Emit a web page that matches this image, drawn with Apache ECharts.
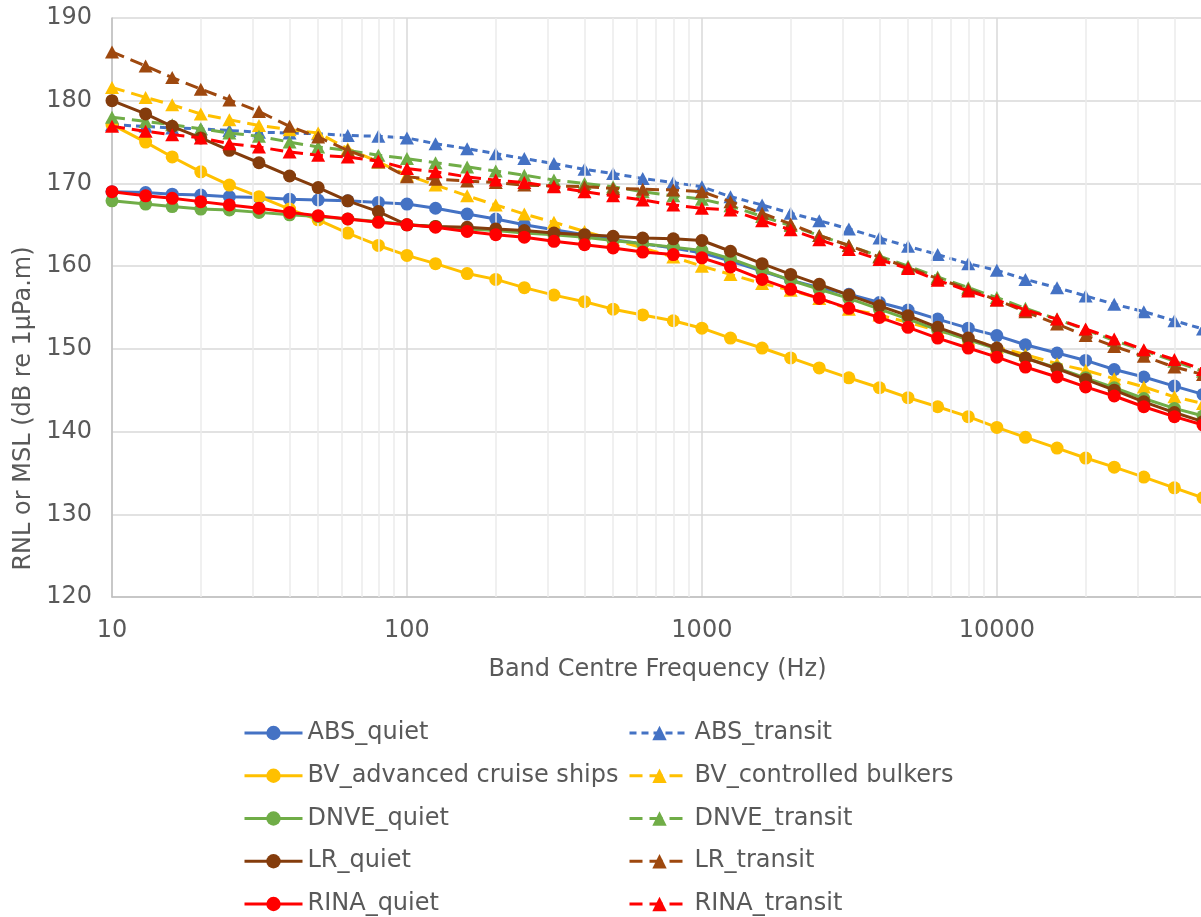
<!DOCTYPE html>
<html><head><meta charset="utf-8">
<script src="https://cdn.jsdelivr.net/npm/echarts@6/dist/echarts.min.js"></script>
<style>html,body{margin:0;padding:0;background:#fff}#c{width:1201px;height:917px}</style>
</head><body><div id="c"></div>
<script>
const frequencies = [10, 13, 16, 20, 25, 31.5, 40, 50, 63, 80, 100, 125, 160, 200, 250, 315, 400, 500, 630, 800, 1000, 1250, 1600, 2000, 2500, 3150, 4000, 5000, 6300, 8000, 10000, 12500, 16000, 20000, 25000, 31500, 40000, 50000];

const ABS_quiet = [169.0, 168.9, 168.7, 168.6, 168.4, 168.3, 168.1, 168.0, 167.9, 167.7, 167.5, 167.0, 166.3, 165.7, 165.0, 164.4, 163.8, 163.2, 162.7, 162.2, 161.6, 160.6, 159.4, 158.3, 157.4, 156.6, 155.6, 154.7, 153.6, 152.5, 151.6, 150.5, 149.5, 148.6, 147.5, 146.6, 145.5, 144.5];
const ABS_transit = [177.1, 176.9, 176.7, 176.6, 176.4, 176.2, 176.1, 176.0, 175.8, 175.7, 175.5, 174.8, 174.2, 173.6, 173.0, 172.4, 171.7, 171.2, 170.6, 170.1, 169.6, 168.4, 167.4, 166.4, 165.5, 164.5, 163.4, 162.4, 161.4, 160.3, 159.5, 158.4, 157.4, 156.4, 155.4, 154.5, 153.4, 152.4];
const BV_advanced = [177.1, 175.0, 173.2, 171.4, 169.8, 168.4, 166.9, 165.6, 164.0, 162.5, 161.3, 160.3, 159.1, 158.4, 157.4, 156.5, 155.7, 154.8, 154.1, 153.4, 152.5, 151.3, 150.1, 148.9, 147.7, 146.5, 145.3, 144.1, 143.0, 141.8, 140.5, 139.3, 138.0, 136.8, 135.7, 134.5, 133.2, 132.0];
const BV_controlled = [181.6, 180.4, 179.5, 178.4, 177.7, 177.0, 176.5, 176.1, 174.2, 172.6, 171.0, 169.8, 168.5, 167.4, 166.3, 165.3, 164.2, 163.2, 162.2, 161.1, 160.0, 159.0, 157.9, 157.1, 156.1, 154.8, 154.1, 153.2, 152.2, 151.2, 150.2, 149.3, 148.2, 147.4, 146.4, 145.4, 144.2, 143.4];
const DNVE_quiet = [167.9, 167.5, 167.2, 166.9, 166.8, 166.5, 166.2, 166.0, 165.7, 165.4, 165.0, 164.8, 164.5, 164.3, 164.0, 163.8, 163.5, 163.1, 162.7, 162.3, 161.9, 160.9, 159.5, 158.3, 157.2, 156.1, 154.8, 153.6, 152.3, 151.1, 150.0, 148.9, 147.7, 146.5, 145.3, 144.0, 142.8, 141.9];
const DNVE_transit = [178.0, 177.5, 177.1, 176.6, 176.1, 175.7, 175.0, 174.4, 174.0, 173.4, 173.0, 172.5, 172.0, 171.5, 171.0, 170.4, 170.0, 169.6, 169.0, 168.5, 168.1, 167.3, 166.0, 164.9, 163.7, 162.5, 161.2, 160.0, 158.7, 157.4, 156.2, 154.9, 153.6, 152.3, 151.0, 149.8, 148.5, 147.3];
const LR_quiet = [180.0, 178.4, 176.9, 175.5, 174.0, 172.5, 170.9, 169.5, 167.9, 166.6, 165.0, 164.8, 164.7, 164.5, 164.3, 164.0, 163.8, 163.6, 163.4, 163.3, 163.1, 161.8, 160.3, 159.0, 157.8, 156.5, 155.2, 154.0, 152.6, 151.3, 150.1, 148.9, 147.6, 146.3, 145.0, 143.6, 142.3, 141.2];
const LR_transit = [185.9, 184.2, 182.8, 181.4, 180.1, 178.7, 176.9, 175.6, 174.0, 172.6, 170.8, 170.5, 170.3, 170.1, 169.8, 169.7, 169.6, 169.4, 169.3, 169.2, 169.0, 167.8, 166.4, 165.1, 163.7, 162.5, 161.1, 159.8, 158.5, 157.2, 155.9, 154.5, 153.0, 151.6, 150.3, 149.1, 147.8, 146.9];
const RINA_quiet = [169.0, 168.5, 168.2, 167.8, 167.4, 167.0, 166.5, 166.1, 165.7, 165.3, 165.0, 164.7, 164.2, 163.8, 163.5, 163.0, 162.6, 162.2, 161.7, 161.4, 161.0, 159.9, 158.4, 157.2, 156.1, 154.9, 153.8, 152.6, 151.3, 150.1, 149.0, 147.8, 146.6, 145.4, 144.3, 143.0, 141.8, 140.8];
const RINA_transit = [176.9, 176.3, 175.9, 175.5, 174.8, 174.4, 173.8, 173.4, 173.2, 172.7, 171.8, 171.4, 170.8, 170.4, 170.1, 169.6, 169.0, 168.5, 168.0, 167.4, 167.0, 166.8, 165.5, 164.4, 163.2, 162.0, 160.8, 159.7, 158.3, 157.0, 155.9, 154.7, 153.6, 152.4, 151.2, 149.9, 148.7, 147.5];

const seriesNames = ['ABS_quiet', 'ABS_transit', 'BV_advanced cruise ships', 'BV_controlled bulkers', 'DNVE_quiet', 'DNVE_transit', 'LR_quiet', 'LR_transit', 'RINA_quiet', 'RINA_transit'];
const seriesValues = [ABS_quiet, ABS_transit, BV_advanced, BV_controlled, DNVE_quiet, DNVE_transit, LR_quiet, LR_transit, RINA_quiet, RINA_transit];
const seriesColors = ['#4472C4', '#4472C4', '#FFC000', '#FFC000', '#70AD47', '#70AD47', '#843C0C', '#9E480E', '#FF0000', '#FF0000'];
const yTicks = [120, 130, 140, 150, 160, 170, 180, 190];
const xTickLabels = [10, 100, 1000, 10000];

const FONT = 'DejaVu Sans';
const TEXT = '#595959';

// minor vertical gridlines at 2..9 x each decade
const minorGrid = [];
for (let d = 10; d <= 10000; d *= 10) {
  for (let k = 2; k <= 9; k++) { if (d * k < 50000) minorGrid.push(d * k); }
}

const series = [{
  name: '__minor', type: 'line', z: 1, silent: true, symbol: 'none',
  data: [[10, 120]], lineStyle: { opacity: 0 },
  markLine: {
    silent: true, symbol: 'none', animation: false,
    label: { show: false },
    lineStyle: { color: '#ebebeb', type: 'solid', width: 1.5 },
    data: minorGrid.map(v => ({ xAxis: v }))
  }
}];
seriesNames.forEach((name, i) => {
  const transit = i % 2 === 1;
  series.push({
    name: name,
    type: 'line',
    z: 2 + i,
    data: frequencies.map((f, j) => [f, seriesValues[i][j]]),
    symbol: transit ? 'triangle' : 'circle',
    symbolSize: transit ? [14, 13] : 13,
    showSymbol: true,
    color: seriesColors[i],
    itemStyle: { color: seriesColors[i], borderWidth: 0 },
    lineStyle: { color: seriesColors[i], width: 3, type: transit ? (i === 1 ? [7, 5] : [13, 7]) : 'solid' },
    emphasis: { disabled: true },
    animation: false
  });
});

const legendCommon = {
  orient: 'vertical', top: 721, padding: 0,
  itemHeight: 18, itemGap: 18.75,
  textStyle: { fontFamily: FONT, fontSize: 24, color: TEXT },
  lineStyle: { width: 3 },
  selectedMode: false
};

const chart = echarts.init(document.getElementById('c'), null, { renderer: 'canvas' });
chart.setOption({
  backgroundColor: '#ffffff',
  animation: false,
  grid: { left: 112, top: 18, right: -2, bottom: 320, containLabel: false, outerBoundsMode: 'none' },
  xAxis: {
    type: 'log', logBase: 10, min: 10, max: 50000,
    name: 'Band Centre Frequency (Hz)', nameLocation: 'middle', nameGap: 61,
    nameTextStyle: { fontFamily: FONT, fontSize: 24, color: TEXT },
    axisLine: { show: true, lineStyle: { color: '#bfbfbf', width: 1.5 } },
    axisTick: { show: false },
    axisLabel: {
      fontFamily: FONT, fontSize: 24, color: TEXT, margin: 22, showMaxLabel: false,
      formatter: v => { const r = Math.round(v); return xTickLabels.includes(r) ? String(r) : ''; }
    },
    splitLine: { show: true, lineStyle: { color: '#d9d9d9', width: 1.5 } },
    minorTick: { show: false }, minorSplitLine: { show: false }
  },
  yAxis: {
    type: 'value', min: yTicks[0], max: yTicks[yTicks.length - 1], interval: 10,
    name: 'RNL or MSL (dB re 1µPa.m)', nameLocation: 'middle', nameGap: 76,
    nameTextStyle: { fontFamily: FONT, fontSize: 24, color: TEXT, padding: [0, 202, 0, 0] },
    axisLine: { show: true, lineStyle: { color: '#bfbfbf', width: 1.5 } },
    axisTick: { show: false },
    axisLabel: { fontFamily: FONT, fontSize: 24, color: TEXT, margin: 20 },
    splitLine: { show: true, lineStyle: { color: '#d9d9d9', width: 1.5 } }
  },
  legend: [
    Object.assign({}, legendCommon, {
      left: 243, itemWidth: 58,
      data: seriesNames.filter((n, i) => i % 2 === 0)
    }),
    Object.assign({}, legendCommon, {
      left: 628, itemWidth: 60,
      data: seriesNames.filter((n, i) => i % 2 === 1)
    })
  ],
  series: series
});
</script>
</body></html>
